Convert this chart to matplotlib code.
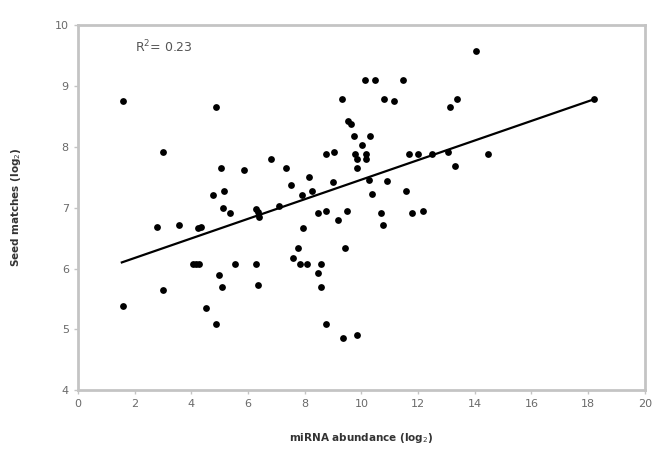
import matplotlib
matplotlib.use("Agg")
import matplotlib.pyplot as plt

# miRNA abundance (log2) and seed matches (log2)
x_vals = [1.60, 1.60, 3.01, 3.01, 2.80, 3.57, 4.24, 4.33, 4.07, 4.18, 4.28,
          4.51, 4.89, 4.75, 4.86, 5.04, 4.98, 5.07, 5.16, 5.13, 5.36, 5.56,
          5.86, 6.27, 6.36, 6.36, 6.39, 6.30, 6.83, 7.10, 7.34, 7.51, 7.60,
          7.77, 7.83, 7.89, 7.95, 8.07, 8.16, 8.25, 8.48, 8.48, 8.56, 8.57,
          8.77, 8.77, 8.77, 9.00, 9.04, 9.18, 9.30, 9.36, 9.42, 9.51, 9.53,
          9.65, 9.74, 9.77, 9.83, 9.83, 9.85, 10.03, 10.13, 10.18, 10.18,
          10.26, 10.31, 10.39, 10.48, 10.68, 10.75, 10.80, 10.89, 11.16,
          11.48, 11.56, 11.68, 11.77, 12.00, 12.18, 12.48, 13.06, 13.12,
          13.30, 13.39, 14.04, 14.47, 18.20]
y_vals = [8.76, 5.39, 7.91, 5.64, 6.68, 6.71, 6.66, 6.69, 6.07, 6.07, 6.07,
          5.35, 8.65, 7.21, 5.09, 7.66, 5.90, 5.69, 7.28, 6.99, 6.91, 6.07,
          7.62, 6.07, 5.73, 6.93, 6.85, 6.97, 7.80, 7.03, 7.66, 7.38, 6.18,
          6.33, 6.07, 7.20, 6.66, 6.07, 7.51, 7.28, 6.91, 5.93, 5.69, 6.07,
          7.88, 6.95, 5.09, 7.42, 7.92, 6.79, 8.79, 4.85, 6.33, 6.95, 8.42,
          8.38, 8.18, 7.88, 7.80, 4.90, 7.66, 8.03, 9.10, 7.88, 7.80,
          7.45, 8.18, 7.23, 9.10, 6.91, 6.71, 8.79, 7.44, 8.76,
          9.10, 7.28, 7.88, 6.91, 7.88, 6.95, 7.88, 7.92, 8.65,
          7.69, 8.79, 9.58, 7.88, 8.78]

# regression line end points
fit_x = [1.55, 18.20]
fit_y = [6.10, 8.78]

x_ticks = [0, 2, 4, 6, 8, 10, 12, 14, 16, 18, 20]
y_ticks = [4, 5, 6, 7, 8, 9, 10]

fig = plt.figure(figsize=(6.6, 4.49), dpi=100)
ax = fig.add_axes([0.118, 0.131, 0.859, 0.813])

ax.scatter(x_vals, y_vals, s=24, color="black", zorder=3, linewidths=0)
ax.plot(fit_x, fit_y, color="black", lw=1.6, zorder=2)

ax.set_xlim(0, 20)
ax.set_ylim(4, 10)
ax.set_xticks(x_ticks)
ax.set_yticks(y_ticks)

gray = "#c4c4c4"
for sp in ax.spines.values():
    sp.set_color(gray)
    sp.set_linewidth(2.0)
ax.tick_params(axis="both", colors=gray, labelcolor="#6a6a6a",
               labelsize=8, length=3, width=1)

ax.text(2.0, 9.64, r"R$^2$= 0.23", fontsize=9, color="#555555",
        va="center", ha="left")

ax.set_xlabel(r"miRNA abundance (log$_2$)", fontsize=7.5, fontweight="bold",
              color="#333333", labelpad=16)
ax.set_ylabel(r"Seed matches (log$_2$)", fontsize=7.5, fontweight="bold",
              color="#333333", labelpad=23)

fig.savefig("out.png", dpi=100)
